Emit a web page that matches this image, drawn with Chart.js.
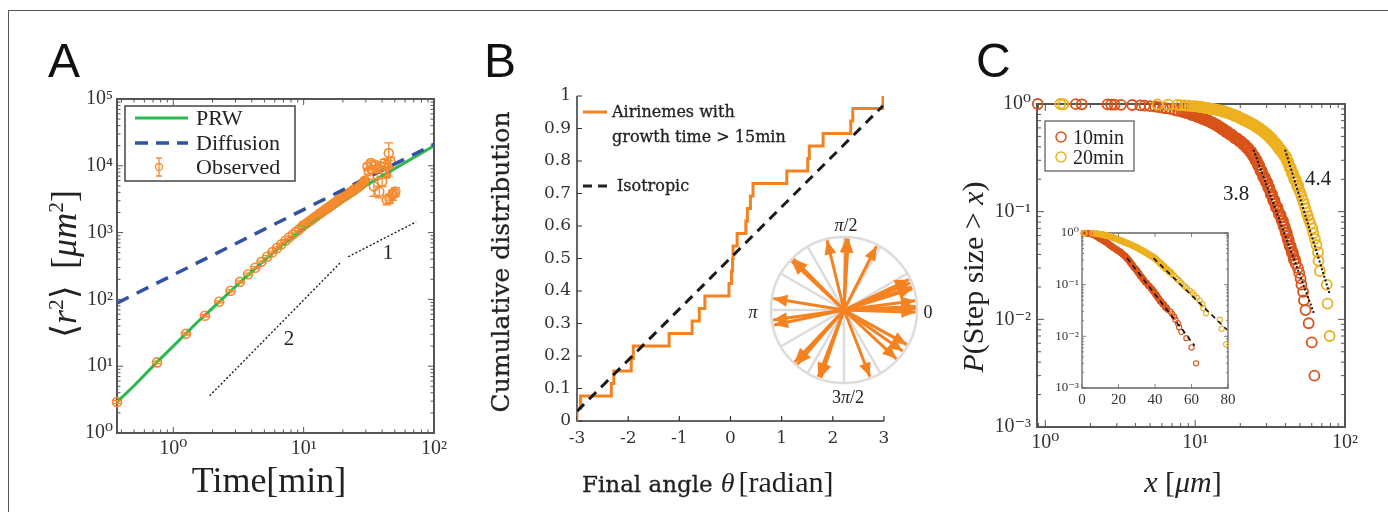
<!DOCTYPE html>
<html>
<head>
<meta charset="utf-8">
<title>Airineme growth statistics</title>
<script src="https://cdn.jsdelivr.net/npm/chart.js@4.4.1/dist/chart.umd.min.js"></script>
<style>
  body { margin: 0; background: #fff; }
  #page { position: relative; width: 1388px; height: 512px; overflow: hidden; font-family: "Liberation Serif", "DejaVu Serif", serif; color: #222; }
  canvas, svg { position: absolute; }
  .t { position: absolute; white-space: nowrap; line-height: 1; transform: translate(-50%, -50%); }
  .l { position: absolute; white-space: nowrap; line-height: 1; transform: translate(0, -50%); }
  .rot { transform: translate(-50%, -50%) rotate(-90deg); }
  .letter { position: absolute; font-family: "Liberation Sans", Arial, sans-serif; font-size: 48px; line-height: 48px; color: #111; }
  .sp { font-size: 0.6em; position: relative; top: -0.6em; }
  .dv { font-family: "DejaVu Serif", serif; -webkit-text-stroke: 0.3px #222; }
</style>
</head>
<body>
<div id="page">
  <div style="position:absolute;left:8px;top:10px;width:1400px;height:520px;border-top:1.5px solid #555;border-left:1.5px solid #555"></div>

  <canvas id="cA" width="460" height="512" style="left:0;top:0"></canvas>
  <canvas id="cB" width="470" height="512" style="left:460px;top:0"></canvas>
  <canvas id="cP" width="168" height="168" style="left:760px;top:226px"></canvas>
  <canvas id="cC" width="458" height="512" style="left:930px;top:0"></canvas>
  <canvas id="cI" width="200" height="190" style="left:1040px;top:220px"></canvas>

  <svg width="1388" height="512" style="left:0;top:0">
    <!-- legend A -->
    <rect x="125" y="106" width="170" height="75" fill="#fff" stroke="#444" stroke-width="1.5"/>
    <line x1="135" y1="118" x2="188" y2="118" stroke="#2db84d" stroke-width="3"/>
    <line x1="135" y1="143" x2="188" y2="143" stroke="#3152a6" stroke-width="3.5" stroke-dasharray="13 8"/>
    <circle cx="159" cy="167" r="3.5" fill="none" stroke="#f58a2e" stroke-width="1.3"/>
    <path d="M159 158V176M156 158H162M156 176H162" stroke="#f58a2e" stroke-width="1.3" fill="none"/>
    <!-- legend B -->
    <line x1="583" y1="112" x2="607" y2="112" stroke="#f58220" stroke-width="3"/>
    <line x1="583" y1="186" x2="608" y2="186" stroke="#222" stroke-width="3" stroke-dasharray="9 6"/>
    <!-- legend C -->
    <rect x="1045" y="121" width="89" height="50" fill="#fff" stroke="#555" stroke-width="1.2"/>
    <circle cx="1061" cy="137" r="5" fill="none" stroke="#d95319" stroke-width="1.5"/>
    <circle cx="1061" cy="157" r="5" fill="none" stroke="#edb120" stroke-width="1.5"/>
  </svg>

  <div class="letter" style="left:48px;top:37px">A</div>
  <div class="letter" style="left:484px;top:37px">B</div>
  <div class="letter" style="left:976px;top:37px">C</div>

  <!-- panel A text -->
  <div class="t rot" style="left:64px;top:264px;font-size:36px">⟨<i>r</i><span class="sp">2</span>⟩&thinsp; [<i>μm</i><span class="sp">2</span>]</div>
  <div class="t" style="left:269px;top:480px;font-size:36px">Time[min]</div>
  <div class="l" style="left:196px;top:118px;font-size:22px">PRW</div>
  <div class="l" style="left:196px;top:143px;font-size:22px">Diffusion</div>
  <div class="l" style="left:196px;top:167px;font-size:22px">Observed</div>
  <div class="t" style="left:289px;top:338px;font-size:21px">2</div>
  <div class="t" style="left:388px;top:252px;font-size:21px">1</div>

  <!-- panel B text -->
  <div class="t rot dv" style="left:500px;top:262px;font-size:25px">Cumulative distribution</div>
  <div class="l" style="left:582px;top:482px"><span class="dv" style="font-size:23px">Final angle</span>&nbsp;&nbsp;<i style="font-size:28px">θ</i>&nbsp;<span style="font-size:30px">[radian]</span></div>
  <div class="l dv" style="left:612px;top:112px;font-size:16px">Airinemes with</div>
  <div class="l dv" style="left:612px;top:137px;font-size:16px">growth time &gt; 15min</div>
  <div class="l dv" style="left:617px;top:186px;font-size:16px">Isotropic</div>
  <div class="t" style="left:846px;top:225px;font-size:18px"><i>π</i>/2</div>
  <div class="t" style="left:928px;top:312px;font-size:18px">0</div>
  <div class="t" style="left:753px;top:312px;font-size:18px"><i>π</i></div>
  <div class="t" style="left:848px;top:397px;font-size:18px">3<i>π</i>/2</div>

  <!-- panel C text -->
  <div class="t rot" style="left:973px;top:277px;font-size:30px"><i>P</i>(Step size &gt; <i>x</i>)</div>
  <div class="t" style="left:1183px;top:482px;font-size:30px"><i>x</i> [<i>μm</i>]</div>
  <div class="l" style="left:1073px;top:137px;font-size:20px">10min</div>
  <div class="l" style="left:1073px;top:157px;font-size:20px">20min</div>
  <div class="t" style="left:1236px;top:193px;font-size:21px">3.8</div>
  <div class="t" style="left:1318px;top:178px;font-size:21px">4.4</div>
</div>

<script>
// ---------- data ----------
// A: mean squared displacement
const prwT = [0.37, 0.5, 0.75, 1, 1.5, 2, 3, 4, 5, 7, 10, 15, 20, 30, 100];
const prwY = [2.9, 5.1, 11.5, 20, 44, 74, 156, 260, 385, 670, 1150, 2100, 3050, 5100, 20000];
const diffT = [0.37, 100];
const diffY = [88, 21000];
const obsT = [0.37, 0.75, 1.25, 1.75, 2.25, 2.75, 3.25, 3.75, 4.25, 4.75,
  5.25, 5.75, 6.25, 6.75, 7.25, 7.75, 8.25, 8.75, 9.25, 9.75,
  10, 10.5, 11, 11.5, 12, 12.5, 13, 13.5, 14, 14.5,
  15, 15.5, 16, 16.5, 17, 17.5, 18, 18.5, 19, 19.5,
  20, 20.5, 21, 21.5, 22, 22.5, 23, 23.5, 24, 24.5,
  25, 25.5, 26, 26.5, 27, 27.5, 28, 28.5, 29, 29.5,
  30.9, 31.5, 32.8, 33.5, 34.6, 35.7, 36.7, 37.5, 38, 39.3, 40,
  41.6, 42.5, 43, 43.5, 44.5, 45, 45.5, 46.5, 48, 49, 50.5];
const obsY = [2.9, 11.4, 30.5, 57, 92, 135, 183, 238, 298, 365,
  435, 510, 590, 670, 755, 845, 935, 1030, 1120, 1220,
  1300, 1370, 1465, 1560, 1660, 1760, 1860, 1960, 2065, 2170,
  2275, 2380, 2490, 2600, 2710, 2820, 2930, 3040, 3150, 3260,
  3370, 3480, 3590, 3700, 3815, 3930, 4045, 4160, 4280, 4400,
  4525, 4650, 4775, 4900, 5050, 5200, 5370, 5550, 5780, 6000,
  9800, 8300, 11000, 8800, 4900, 10300, 7300, 9000, 4100, 9800, 5800,
  11000, 8000, 7700, 3100, 9500, 15500, 3250, 11500, 3650, 3900, 4100];
const obsErr = [0.15, 0.5, 1.2, 2, 3, 5, 7, 9, 11, 13,
  16, 19, 22, 26, 30, 34, 38, 42, 46, 50,
  54, 58, 62, 66, 70, 75, 80, 85, 90, 95,
  100, 105, 110, 115, 120, 125, 132, 140, 148, 155,
  162, 170, 180, 190, 200, 210, 220, 230, 240, 250,
  265, 280, 295, 310, 325, 340, 360, 380, 400, 420,
  900, 800, 1200, 1000, 1400, 1100, 900, 1000, 800, 1200, 900,
  1500, 1300, 1100, 500, 2500, 6500, 500, 2000, 600, 500, 600];
const slope2T = [1.9, 19];
const slope2Y = [3.6, 350];
const slope1T = [22, 73];
const slope1Y = [435, 1450];
const aXTicks = [1, 10, 100];
const aYTicks = [1, 10, 100, 1000, 10000, 100000];

// B: final angles of airinemes (radian), sorted
const angles = [-3.0, -2.93, -2.33, -2.28, -1.94, -1.90, -1.20, -0.75, -0.61, -0.50,
  -0.03, 0.02, 0.04, 0.05, 0.13, 0.30, 0.33, 0.39, 0.44, 1.10,
  1.51, 1.54, 1.81, 2.35, 2.39, 2.98];
const isoX = [-3, 2.98];
const isoY = [0.03, 0.97];
const bXTicks = [-3, -2, -1, 0, 1, 2, 3];
const bYTicks = [0, 0.1, 0.2, 0.3, 0.4, 0.5, 0.6, 0.7, 0.8, 0.9, 1];
const wheelSpokes = [0, 30, 60, 90, 120, 150, 180, 210, 240, 270, 300, 330];

// C: step size survival (10 min and 20 min)
const red10X = [0.89, 1.6, 1.75, 2.6, 2.75, 2.9, 3.2, 3.8, 4.3, 4.6,
  5.0, 5.4, 5.7, 6.1, 6.4, 6.8, 7.3, 7.7, 8.1, 8.5,
  8.9, 9.3, 9.7, 10.1, 10.5, 10.9, 11.3, 11.7, 12.1, 12.6,
  13.0, 13.4, 13.8, 14.2, 14.6, 15.0, 15.4, 15.8, 16.3, 16.8,
  17.3, 18.0, 18.8, 19.4, 20.0, 20.6, 21.2, 21.8, 22.3, 22.9,
  23.5, 24.0, 24.5, 25.0, 25.5, 26.0, 26.5, 27.0, 27.5, 28.1,
  28.8, 29.4, 30.0, 30.5, 31.0, 31.6, 32.3, 32.9, 33.5, 34.2,
  35.0, 35.8, 36.8, 37.5, 38.3, 38.8, 39.3, 39.9, 40.5, 41.2,
  41.8, 42.4, 43.0, 43.7, 44.5, 45.2, 46.0, 46.8, 48.5, 49.5,
  50.5, 51.2, 52.5, 53.2, 54.5, 57.2, 60.0, 62.5,
  8.3, 8.7, 9.1, 9.5, 9.9, 10.3, 10.7, 11.1, 11.5, 11.9,
  12.35, 12.8, 13.2, 13.6, 14.0, 14.4, 14.8, 15.2, 15.6, 16.05,
  16.55, 17.05, 17.6, 18.4, 19.1, 19.7, 20.3, 20.9, 21.5, 22.05,
  22.6, 23.2, 23.75, 24.25, 24.75, 25.25, 25.75, 26.25, 26.75, 27.25,
  27.8, 28.45, 29.1, 29.7, 30.25, 30.75, 31.3, 31.95, 32.6, 33.2,
  33.85, 34.6, 35.4, 36.3, 37.1, 37.9, 38.55, 39.05, 39.6, 40.2,
  40.85, 41.5, 42.1, 42.7, 43.35, 44.1, 44.85, 45.6, 46.4];
const red10Y = [1.000, 0.997, 0.994, 0.991, 0.988, 0.985, 0.982, 0.979, 0.973, 0.965,
  0.955, 0.945, 0.935, 0.922, 0.91, 0.90, 0.88, 0.865, 0.85, 0.835,
  0.82, 0.805, 0.79, 0.775, 0.76, 0.745, 0.73, 0.715, 0.70, 0.685,
  0.67, 0.655, 0.64, 0.625, 0.61, 0.595, 0.58, 0.565, 0.548, 0.532,
  0.516, 0.50, 0.48, 0.465, 0.45, 0.435, 0.42, 0.405, 0.39, 0.375,
  0.36, 0.345, 0.33, 0.315, 0.30, 0.285, 0.27, 0.255, 0.24, 0.225,
  0.21, 0.198, 0.188, 0.177, 0.167, 0.156, 0.145, 0.136, 0.127, 0.118,
  0.11, 0.102, 0.094, 0.088, 0.082, 0.077, 0.073, 0.068, 0.064, 0.059,
  0.055, 0.051, 0.048, 0.045, 0.042, 0.039, 0.036, 0.033, 0.030, 0.027,
  0.024, 0.021, 0.018, 0.015, 0.0122, 0.0092, 0.0061, 0.003,
  0.87, 0.83, 0.82, 0.79, 0.79, 0.76, 0.76, 0.73, 0.73, 0.70,
  0.70, 0.67, 0.67, 0.64, 0.64, 0.61, 0.61, 0.58, 0.58, 0.55,
  0.55, 0.52, 0.52, 0.48, 0.48, 0.45, 0.45, 0.42, 0.42, 0.39,
  0.39, 0.36, 0.36, 0.33, 0.33, 0.30, 0.30, 0.27, 0.27, 0.24,
  0.24, 0.21, 0.21, 0.188, 0.188, 0.167, 0.167, 0.145, 0.145, 0.127,
  0.127, 0.11, 0.11, 0.094, 0.094, 0.082, 0.082, 0.073, 0.073, 0.064,
  0.064, 0.055, 0.055, 0.048, 0.048, 0.042, 0.042, 0.036, 0.036];
const yel20X = [1.26, 1.32, 5.6, 6.6, 7.6, 8.0, 8.5, 8.8, 9.2, 9.6,
  10.0, 10.5, 11.0, 11.5, 12.0, 12.6, 13.2, 13.8, 14.5, 15.0,
  15.5, 16.0, 16.6, 17.2, 17.8, 18.3, 18.9, 19.5, 20.1, 20.7,
  21.3, 22.0, 22.7, 23.4, 24.1, 24.8, 25.5, 26.2, 26.9, 27.6,
  28.3, 29.0, 29.7, 30.4, 31.1, 31.8, 32.5, 33.2, 33.9, 34.6,
  35.3, 36.0, 36.8, 37.6, 38.4, 39.2, 40.0, 40.8, 41.5, 42.2,
  43.0, 43.8, 44.6, 45.4, 46.3, 47.3, 48.3, 49.3, 50.3, 51.3,
  52.3, 53.3, 54.4, 55.5, 56.5, 57.5, 59.0, 60.5, 61.5, 63.0,
  64.5, 66.0, 66.5, 68.0, 75.5, 76.5, 79.0,
  10.25, 10.75, 11.25, 11.75, 12.3, 12.9, 13.5, 14.15, 14.75, 15.25,
  15.75, 16.3, 16.9, 17.5, 18.05, 18.6, 19.2, 19.8, 20.4, 21.0,
  21.65, 22.35, 23.05, 23.75, 24.45, 25.15, 25.85, 26.55, 27.25, 27.95,
  28.65, 29.35, 30.05, 30.75, 31.45, 32.15, 32.85, 33.55, 34.25, 34.95,
  35.65, 36.4, 37.2, 38.0, 38.8, 39.6, 40.4, 41.15, 41.85, 42.6,
  43.4, 44.2, 45.0, 45.85, 46.8, 47.8, 48.8];
const yel20Y = [1.0, 0.995, 0.99, 0.985, 0.98, 0.975, 0.97, 0.965, 0.96, 0.955,
  0.95, 0.945, 0.935, 0.925, 0.915, 0.905, 0.895, 0.885, 0.872, 0.862,
  0.852, 0.84, 0.826, 0.812, 0.798, 0.785, 0.77, 0.755, 0.74, 0.725,
  0.71, 0.695, 0.68, 0.665, 0.65, 0.635, 0.62, 0.605, 0.59, 0.575,
  0.56, 0.545, 0.53, 0.515, 0.50, 0.485, 0.47, 0.455, 0.44, 0.425,
  0.41, 0.395, 0.38, 0.366, 0.352, 0.338, 0.324, 0.305, 0.29, 0.272,
  0.258, 0.243, 0.228, 0.214, 0.2, 0.187, 0.174, 0.161, 0.15, 0.139,
  0.128, 0.118, 0.108, 0.098, 0.091, 0.084, 0.077, 0.070, 0.063, 0.056,
  0.049, 0.042, 0.035, 0.028, 0.021, 0.014, 0.007,
  0.95, 0.935, 0.935, 0.915, 0.915, 0.895, 0.895, 0.872, 0.872, 0.852,
  0.852, 0.826, 0.826, 0.798, 0.798, 0.77, 0.77, 0.74, 0.74, 0.71,
  0.71, 0.68, 0.68, 0.65, 0.65, 0.62, 0.62, 0.59, 0.59, 0.56,
  0.56, 0.53, 0.53, 0.50, 0.50, 0.47, 0.47, 0.44, 0.44, 0.41,
  0.41, 0.38, 0.38, 0.352, 0.352, 0.324, 0.324, 0.29, 0.29, 0.258,
  0.258, 0.228, 0.228, 0.2, 0.2, 0.174, 0.174];
const fit38X = [24.5, 62];
const fit38Y = [0.376, 0.0114];
const fit44X = [39.8, 79.4];
const fit44Y = [0.376, 0.0168];
const insetFitRX = [24.7, 61.7];
const insetFitRY = [0.327, 0.0066];
const insetFitYX = [39.2, 79.5];
const insetFitYY = [0.327, 0.0133];
const cXTicks = [1, 10, 100];
const cYTicks = [0.001, 0.01, 0.1, 1];
const insetXTicks = [0, 20, 40, 60, 80];

// ---------- colours ----------
const GREEN = '#2db84d';
const BLUE = '#3152a6';
const ORANGE_A = '#f58a2e';
const ORANGE_B = '#f58220';
const RED = '#d95319';
const YELLOW = '#edb120';
const NONE = 'rgba(0,0,0,0)';
const SERIF = '"Liberation Serif", "DejaVu Serif", serif';

// ---------- helpers ----------
const SUPS = { '-': '⁻', '0': '⁰', '1': '¹', '2': '²', '3': '³', '4': '⁴', '5': '⁵' };
function pow10(v) {
  const e = Math.round(Math.log10(v));
  return '10' + String(e).split('').map(c => SUPS[c]).join('');
}
const zip = (xs, ys) => xs.map((x, i) => ({ x, y: ys[i] }));

function logMinor(lo, hi) {
  const out = [];
  for (let e = Math.floor(Math.log10(lo)); e <= Math.ceil(Math.log10(hi)); e++) {
    for (let m = 2; m <= 9; m++) {
      const v = m * Math.pow(10, e);
      if (v > lo && v < hi) out.push(v);
    }
  }
  return out;
}

function fixSize(size) {
  return s => {
    if (s.isHorizontal()) s.height = size; else s.width = size;
    s.paddingLeft = s.paddingRight = s.paddingTop = s.paddingBottom = 0;
  };
}

function axis(type, min, max, major, size, pad, fontSize, fmt, family) {
  return {
    type, min, max,
    grid: { display: false, drawTicks: false },
    border: { display: false },
    afterBuildTicks: s => { s.ticks = major.map(v => ({ value: v })); },
    afterFit: fixSize(size),
    ticks: {
      autoSkip: false, maxRotation: 0, padding: pad, color: '#333',
      font: { family: family || SERIF, size: fontSize }, callback: fmt
    }
  };
}

function baseOptions(padding, scales) {
  return {
    responsive: false, animation: false, events: [],
    layout: { padding, autoPadding: false },
    plugins: { legend: { display: false }, tooltip: { enabled: false } },
    scales
  };
}

// box / axes with inward ticks
function framePlugin(f) {
  return {
    id: 'frame',
    beforeDatasetsDraw(chart) {
      const { ctx, chartArea: a, scales: { x, y } } = chart;
      ctx.save();
      ctx.strokeStyle = f.color;
      ctx.lineWidth = f.width;
      ctx.beginPath();
      if (f.box) {
        ctx.rect(a.left, a.top, a.right - a.left, a.bottom - a.top);
      } else {
        ctx.moveTo(a.left, a.top);
        ctx.lineTo(a.left, a.bottom);
        ctx.lineTo(a.right, a.bottom);
      }
      ctx.stroke();
      ctx.lineWidth = f.tickWidth;
      ctx.beginPath();
      const xt = (vals, len) => vals.forEach(v => {
        const p = x.getPixelForValue(v);
        ctx.moveTo(p, a.bottom); ctx.lineTo(p, a.bottom - len);
        if (f.box) { ctx.moveTo(p, a.top); ctx.lineTo(p, a.top + len); }
      });
      const yt = (vals, len) => vals.forEach(v => {
        const p = y.getPixelForValue(v);
        ctx.moveTo(a.left, p); ctx.lineTo(a.left + len, p);
        if (f.box) { ctx.moveTo(a.right, p); ctx.lineTo(a.right - len, p); }
      });
      xt(f.xMajor, f.major); xt(f.xMinor || [], f.minor);
      yt(f.yMajor, f.major); yt(f.yMinor || [], f.minor);
      ctx.stroke();
      ctx.restore();
    }
  };
}

function errorBarPlugin(dsIndex, errs, color) {
  return {
    id: 'errbars',
    afterDatasetsDraw(chart) {
      const { ctx, scales: { y } } = chart;
      const meta = chart.getDatasetMeta(dsIndex);
      const data = chart.data.datasets[dsIndex].data;
      ctx.save();
      ctx.strokeStyle = color;
      ctx.lineWidth = 1.3;
      ctx.beginPath();
      meta.data.forEach((pt, i) => {
        const top = y.getPixelForValue(data[i].y + errs[i]);
        const bot = y.getPixelForValue(Math.max(data[i].y - errs[i], 1e-6));
        ctx.moveTo(pt.x, top); ctx.lineTo(pt.x, bot);
        ctx.moveTo(pt.x - 4.5, top); ctx.lineTo(pt.x + 4.5, top);
        ctx.moveTo(pt.x - 4.5, bot); ctx.lineTo(pt.x + 4.5, bot);
      });
      ctx.stroke();
      ctx.restore();
    }
  };
}

function lineSet(xs, ys, color, width, dash, order) {
  return { data: zip(xs, ys), showLine: true, borderColor: color, borderWidth: width,
    borderDash: dash || [], pointRadius: 0, order: order || 0 };
}
function circleSet(xs, ys, color, r, w, order) {
  return { data: zip(xs, ys), pointRadius: r, pointBorderWidth: w, borderColor: color,
    pointBorderColor: color, backgroundColor: NONE, pointBackgroundColor: NONE, clip: false, order: order || 0 };
}

// ---------- panel A ----------
new Chart(document.getElementById('cA'), {
  type: 'scatter',
  data: {
    datasets: [
      circleSet(obsT, obsY, ORANGE_A, 4.5, 1.6, 4),
      lineSet(prwT, prwY, GREEN, 3, null, 3),
      lineSet(diffT, diffY, BLUE, 3.5, [13, 9], 2),
      lineSet(slope2T, slope2Y, '#111', 1.3, [2, 2], 1),
      lineSet(slope1T, slope1Y, '#111', 1.3, [2, 2], 1)
    ]
  },
  options: baseOptions({ left: 62, right: 26, top: 99, bottom: 49 }, {
    x: axis('logarithmic', 0.37, 100, aXTicks, 30, 4, 20, pow10),
    y: axis('logarithmic', 1, 100000, aYTicks, 55, 4, 20, pow10)
  }),
  plugins: [
    framePlugin({ box: true, color: '#555', width: 2, tickWidth: 1, major: 6, minor: 3.5,
      xMajor: aXTicks, xMinor: logMinor(0.37, 100), yMajor: aYTicks, yMinor: logMinor(1, 100000) }),
    errorBarPlugin(0, obsErr, ORANGE_A)
  ]
});

// ---------- panel B ----------
const cdf = [{ x: angles[0], y: 0 }].concat(angles.map((a, i) => ({ x: a, y: (i + 1) / angles.length })));
new Chart(document.getElementById('cB'), {
  type: 'scatter',
  data: {
    datasets: [
      { data: cdf, showLine: true, stepped: 'before', borderColor: ORANGE_B, borderWidth: 3, pointRadius: 0, order: 1 },
      lineSet(isoX, isoY, '#1a1a1a', 3, [10, 7], 0)
    ]
  },
  options: baseOptions({ left: 62, right: 46, top: 96, bottom: 61 }, {
    x: axis('linear', -3, 3, bXTicks, 30, 7, 17, v => String(v), '"DejaVu Serif", serif'),
    y: axis('linear', 0, 1, bYTicks, 55, 6, 17, v => (v === 0 || v === 1) ? String(v) : v.toFixed(1), '"DejaVu Serif", serif')
  }),
  plugins: [
    framePlugin({ box: false, color: '#333', width: 1.5, tickWidth: 1.2, major: 5, minor: 0,
      xMajor: bXTicks, yMajor: bYTicks })
  ]
});

// polar inset of the same angles
const wheelPlugin = {
  id: 'wheel',
  beforeDatasetsDraw(chart) {
    const { ctx, scales: { x, y } } = chart;
    const cx = x.getPixelForValue(0), cy = y.getPixelForValue(0);
    const r = x.getPixelForValue(1) - cx;
    ctx.save();
    ctx.strokeStyle = '#dcdcdc';
    ctx.lineWidth = 2.5;
    ctx.beginPath();
    ctx.arc(cx, cy, r, 0, Math.PI * 2);
    wheelSpokes.forEach(d => {
      const t = d * Math.PI / 180;
      ctx.moveTo(cx, cy);
      ctx.lineTo(cx + r * Math.cos(t), cy - r * Math.sin(t));
    });
    ctx.stroke();
    ctx.restore();
  }
};
const arrowHeads = {
  id: 'arrowHeads',
  afterDatasetsDraw(chart) {
    const ctx = chart.ctx;
    ctx.save();
    ctx.fillStyle = ORANGE_B;
    chart.data.datasets.forEach((ds, i) => {
      const [p0, p1] = chart.getDatasetMeta(i).data;
      const ang = Math.atan2(p1.y - p0.y, p1.x - p0.x);
      const L = 14, W = 6;
      const bx = p1.x - L * Math.cos(ang), by = p1.y - L * Math.sin(ang);
      ctx.beginPath();
      ctx.moveTo(p1.x, p1.y);
      ctx.lineTo(bx + W * Math.sin(ang), by - W * Math.cos(ang));
      ctx.lineTo(bx - W * Math.sin(ang), by + W * Math.cos(ang));
      ctx.closePath();
      ctx.fill();
    });
    ctx.restore();
  }
};
new Chart(document.getElementById('cP'), {
  type: 'scatter',
  data: {
    datasets: angles.map(a => ({
      data: [{ x: 0, y: 0 }, { x: Math.cos(a) * 0.98, y: Math.sin(a) * 0.98 }],
      showLine: true, borderColor: ORANGE_B, borderWidth: 3, pointRadius: 0, clip: false
    }))
  },
  options: baseOptions(0, {
    x: { type: 'linear', min: -1.15, max: 1.15, display: false },
    y: { type: 'linear', min: -1.15, max: 1.15, display: false }
  }),
  plugins: [wheelPlugin, arrowHeads]
});

// ---------- panel C ----------
new Chart(document.getElementById('cC'), {
  type: 'scatter',
  data: {
    datasets: [
      circleSet(red10X, red10Y, RED, 5, 1.8, 3),
      circleSet(yel20X, yel20Y, YELLOW, 5, 1.8, 2),
      lineSet(fit38X, fit38Y, '#111', 2, [2, 2], 1),
      lineSet(fit44X, fit44Y, '#111', 2, [2, 2], 1)
    ]
  },
  options: baseOptions({ left: 52, right: 43, top: 104, bottom: 55 }, {
    x: axis('logarithmic', 0.88, 100, cXTicks, 30, 4, 20, pow10),
    y: axis('logarithmic', 0.001, 1, cYTicks, 55, 6, 20, pow10)
  }),
  plugins: [
    framePlugin({ box: true, color: '#555', width: 2, tickWidth: 1, major: 7, minor: 4,
      xMajor: cXTicks, xMinor: logMinor(0.88, 100), yMajor: cYTicks, yMinor: logMinor(0.001, 1) })
  ]
});

// inset: same data on a linear x axis
new Chart(document.getElementById('cI'), {
  type: 'scatter',
  data: {
    datasets: [
      circleSet(red10X, red10Y, RED, 2.6, 1.1, 3),
      circleSet(yel20X, yel20Y, YELLOW, 2.6, 1.1, 2),
      lineSet(insetFitRX, insetFitRY, '#111', 1.6, [5, 4], 1),
      lineSet(insetFitYX, insetFitYY, '#111', 1.6, [5, 4], 1)
    ]
  },
  options: baseOptions({ left: 6, right: 12, top: 13, bottom: 4 }, {
    x: axis('linear', 0, 80, insetXTicks, 18, 3, 15, v => String(v)),
    y: axis('logarithmic', 0.001, 1, cYTicks, 36, 3, 13, pow10)
  }),
  plugins: [
    framePlugin({ box: true, color: '#666', width: 1.3, tickWidth: 0.8, major: 4, minor: 2,
      xMajor: insetXTicks, yMajor: cYTicks, yMinor: logMinor(0.001, 1) })
  ]
});
</script>
</body>
</html>
